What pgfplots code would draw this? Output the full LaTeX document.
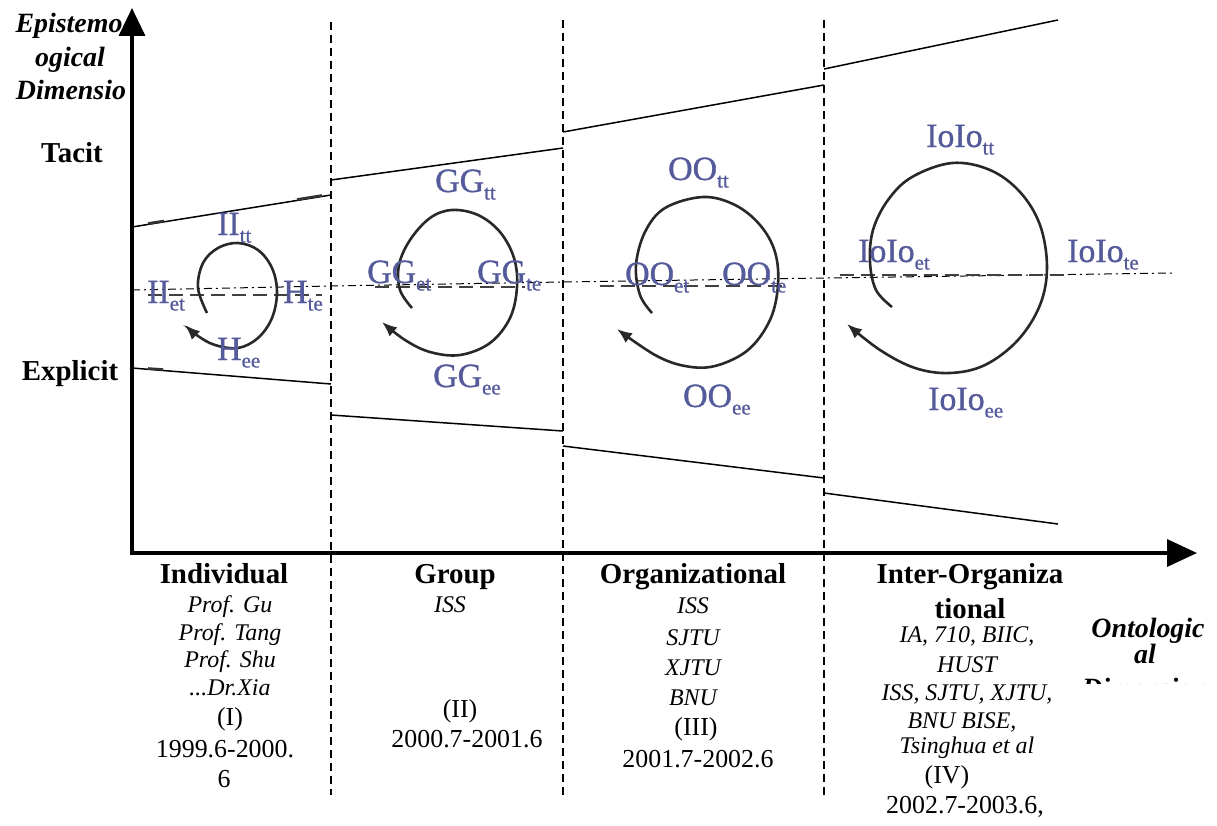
\documentclass[border=0pt]{standalone}
\usepackage{pgfplots}
\pgfplotsset{compat=1.18}
\usepackage{fontspec}
\setmainfont{Liberation Serif}
\newfontfamily\lblfont[FakeBold=1]{Liberation Serif}
\usetikzlibrary{arrows.meta}

\definecolor{lbl}{RGB}{85,90,155}
\definecolor{spir}{RGB}{40,40,40}

% label with a lowered subscript, e.g. GG_tt
\newcommand{\lab}[2]{#1\raisebox{-7.5bp}{\fontsize{21}{21}\selectfont #2}}

\tikzset{
  t/.style={inner sep=0pt, anchor=base},
  lb/.style={inner sep=0pt, anchor=base west, text=lbl, font=\lblfont\fontsize{34}{34}\selectfont},
  hd/.style={t, font=\fontsize{29}{30}\selectfont\bfseries},
  hi/.style={t, font=\fontsize{28}{30}\selectfont\bfseries\itshape},
  it/.style={t, font=\fontsize{24}{26}\selectfont\itshape},
  rm/.style={t, font=\fontsize{26}{27}\selectfont},
  spiral/.style={spir, line width=2.6bp, smooth, tension=0.6, -{Latex[length=15bp,width=12bp]}},
}

\begin{document}
\begin{tikzpicture}
\begin{axis}[
  width=1217bp, height=825bp, scale only axis,
  xmin=0, xmax=1217, ymin=0, ymax=825, y dir=reverse,
  hide axis, clip=false,
]
\coordinate (ll) at (axis cs:0,825);
\coordinate (ur) at (axis cs:1217,0);

% stage separators
\addplot[black, line width=1.2bp, dash pattern=on 8bp off 5bp] coordinates {(331,22) (331,795)};
\addplot[black, line width=1.2bp, dash pattern=on 8bp off 5bp] coordinates {(563,20) (563,795)};
\addplot[black, line width=1.2bp, dash pattern=on 8bp off 5bp] coordinates {(824,20) (824,795)};

% upper (tacit) boundary
\addplot[black, line width=1.5bp] coordinates {(132,227) (331,195)};
\addplot[black, line width=1.5bp] coordinates {(331,180) (563,148)};
\addplot[black, line width=1.5bp] coordinates {(563,132) (824,85)};
\addplot[black, line width=1.5bp] coordinates {(824,69) (1058,20)};
% lower (explicit) boundary
\addplot[black, line width=1.5bp] coordinates {(132,368) (331,384)};
\addplot[black, line width=1.5bp] coordinates {(331,415) (563,431)};
\addplot[black, line width=1.5bp] coordinates {(563,446) (824,478)};
\addplot[black, line width=1.5bp] coordinates {(824,493) (1058,524)};
% heavier stubs on the first stage boundaries
\addplot[black!80, line width=2.6bp] coordinates {(148,223.5) (164,221)};
\addplot[black!80, line width=2.6bp] coordinates {(297,199.5) (322,195.5)};
\addplot[black!80, line width=2.6bp] coordinates {(148,368.5) (163,369.5)};

% middle line
\addplot[black, line width=1bp, dash pattern=on 8bp off 4bp on 2bp off 4bp]
  coordinates {(132,290) (331,286) (563,282) (824,278) (1175,273)};
\addplot[black!75, line width=2.6bp, dash pattern=on 14bp off 7bp] coordinates {(148,295) (322,295)};
\addplot[black!75, line width=2.6bp, dash pattern=on 14bp off 7bp] coordinates {(375,287) (525,287)};
\addplot[black!75, line width=2.6bp, dash pattern=on 14bp off 7bp] coordinates {(600,286) (785,286)};
\addplot[black!75, line width=2.6bp, dash pattern=on 14bp off 7bp] coordinates {(840,275) (1070,275)};

% spirals
\addplot[spiral] coordinates {(207,313) (198,288) (203,263) (218,248) (238,243) (258,250) (272,268) (277,292) (272,318) (258,338) (238,348) (215,345) (198,336) (185,325)};
\addplot[spiral] coordinates {(412,308) (400,290) (399,265) (410,240) (430,218) (452,210) (478,215) (500,232) (514,258) (517,287) (510,318) (490,343) (460,355) (430,352) (405,340) (382,322)};
\addplot[spiral] coordinates {(652,313) (640,295) (636,265) (645,232) (665,208) (703,197) (735,205) (760,225) (775,252) (778,285) (770,320) (748,350) (715,366) (685,366) (655,355) (617,329)};
\addplot[spiral] coordinates {(892,307) (876,290) (870,262) (873,230) (888,200) (912,177) (952,163) (990,170) (1020,192) (1040,225) (1047,267) (1040,305) (1018,340) (985,365) (950,373) (915,368) (880,350) (847,324)};

% axes
\addplot[black, line width=3.5bp, line join=miter,
  {Triangle[length=28bp,width=26bp]}-{Triangle[length=30bp,width=27bp]}]
  coordinates {(132,8) (132,553) (1197,553)};

% spiral labels
\node[lb] at (axis cs:217,235) {\lab{II}{tt}};
\node[lb] at (axis cs:147,303) {\lab{II}{et}};
\node[lb] at (axis cs:283,303) {\lab{H}{te}};
\node[lb] at (axis cs:217,360) {\lab{H}{ee}};

\node[lb] at (axis cs:435,192) {\lab{GG}{tt}};
\node[lb] at (axis cs:367,283) {\lab{GG}{et}};
\node[lb] at (axis cs:477,283) {\lab{GG}{te}};
\node[lb] at (axis cs:433,387) {\lab{GG}{ee}};

\node[lb] at (axis cs:668,180) {\lab{OO}{tt}};
\node[lb] at (axis cs:625,285) {\lab{OO}{et}};
\node[lb] at (axis cs:722,285) {\lab{OO}{te}};
\node[lb] at (axis cs:683,407) {\lab{OO}{ee}};

\node[lb] at (axis cs:926,147) {\lab{IoIo}{tt}};
\node[lb] at (axis cs:858,262) {\lab{IoIo}{et}};
\node[lb] at (axis cs:1067,262) {\lab{IoIo}{te}};
\node[lb] at (axis cs:928,410) {\lab{IoIo}{ee}};

% epistemological dimension
\node[hi] at (axis cs:69,33) {Epistemo};
\node[hi] at (axis cs:70,67) {ogical};
\node[hi] at (axis cs:71,100) {Dimensio};
\node[hd] at (axis cs:72,162) {Tacit};
\node[hd] at (axis cs:70,380) {Explicit};

% stage I
\node[hd] at (axis cs:224,583) {Individual};
\node[it] at (axis cs:230,612) {Prof. Gu};
\node[it] at (axis cs:230,640) {Prof. Tang};
\node[it] at (axis cs:230,667) {Prof. Shu};
\node[it] at (axis cs:230,695) {...Dr.Xia};
\node[rm] at (axis cs:230,725) {(I)};
\node[rm] at (axis cs:225,757) {1999.6-2000.};
\node[rm] at (axis cs:224,787) {6};

% stage II
\node[hd] at (axis cs:455,583) {Group};
\node[it] at (axis cs:450,612) {ISS};
\node[rm] at (axis cs:460,717) {(II)};
\node[rm] at (axis cs:467,747) {2000.7-2001.6};

% stage III
\node[hd] at (axis cs:693,583) {Organizational};
\node[it] at (axis cs:693,613) {ISS};
\node[it] at (axis cs:693,645) {SJTU};
\node[it] at (axis cs:693,675) {XJTU};
\node[it] at (axis cs:693,705) {BNU};
\node[rm] at (axis cs:696,735) {(III)};
\node[rm] at (axis cs:698,767) {2001.7-2002.6};

% stage IV
\node[hd] at (axis cs:970,583) {Inter-Organiza};
\node[hd] at (axis cs:970,618) {tional};
\node[it] at (axis cs:967,642) {IA, 710, BIIC,};
\node[it] at (axis cs:967,672) {HUST};
\node[it] at (axis cs:967,700) {ISS, SJTU, XJTU,};
\node[it] at (axis cs:962,728) {BNU BISE,};
\node[it] at (axis cs:967,753) {Tsinghua et al};
\node[rm] at (axis cs:947,783) {(IV)};
\node[rm] at (axis cs:965,813) {2002.7-2003.6,};

% ontological dimension
\node[hi] at (axis cs:1148,637) {Ontologic};
\node[hi] at (axis cs:1145,663) {al};
\coordinate (dimpos) at (axis cs:1145,697);
\coordinate (clipa) at (axis cs:1075,670);
\coordinate (clipb) at (axis cs:1217,683);
\end{axis}

\begin{scope}
  \clip (clipa) rectangle (clipb);
  \node[hi] at (dimpos) {Dimension};
\end{scope}

\pgfresetboundingbox
\path[use as bounding box] (ll) rectangle (ur);
\end{tikzpicture}
\end{document}
